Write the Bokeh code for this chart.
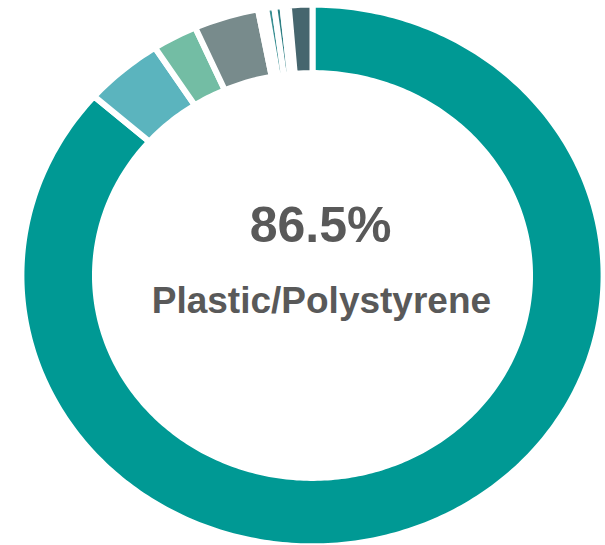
import numpy as np
from bokeh.plotting import figure
from bokeh.models import ColumnDataSource, Range1d
from bokeh.core.properties import value
from bokeh.embed import file_html
from bokeh.resources import INLINE

# ---- data (clockwise from 12 o'clock) ----
categories = ["Plastic/Polystyrene", "Paper/Cardboard", "Glass", "Metal",
              "Other A", "Rubber", "Cloth", "Other B", "Wood"]
shares = [86.5, 4.4, 2.5, 3.6, 0.45, 0.45, 0.45, 0.35, 1.3]
colors = ["#009994", "#5BB4BE", "#73BDA4", "#788B8C",
          "#FFFFFF", "#3A8F93", "#2E7F84", "#FFFFFF", "#46666E"]

center_label = "86.5%"
center_name = "Plastic/Polystyrene"

# ---- geometry (unit circle in data space; scales make it an ellipse) ----
PX_X, PX_Y = 288.0, 268.0          # pixels per data unit
W, H = 605, 545
CX, CY = 312.0, 275.0               # centre in frame pixels
R_OUT = 1.0 + 3.0 / 280.0
R_IN = 0.766 - 3.0 / 280.0

fr = np.array(shares) / sum(shares)
ends = np.cumsum(fr) * 2 * np.pi
starts = ends - fr * 2 * np.pi

xs, ys = [], []
for a0, a1 in zip(starts, ends):
    n = max(4, int((a1 - a0) / (2 * np.pi) * 400))
    t = np.linspace(a0, a1, n)
    ox, oy = R_OUT * np.sin(t), R_OUT * np.cos(t)
    ix, iy = R_IN * np.sin(t[::-1]), R_IN * np.cos(t[::-1])
    xs.append(list(np.concatenate([ox, ix])))
    ys.append(list(np.concatenate([oy, iy])))

src = ColumnDataSource(dict(xs=xs, ys=ys, color=colors, cat=categories, share=shares))

p = figure(width=W, height=H, output_backend="svg", toolbar_location=None,
           x_range=Range1d(-CX / PX_X, (W - CX) / PX_X),
           y_range=Range1d(-(H - CY) / PX_Y, CY / PX_Y),
           min_border=0)
p.axis.visible = False
p.grid.visible = False
p.outline_line_color = None
p.background_fill_color = "white"
p.border_fill_color = "white"

p.patches("xs", "ys", source=src, fill_color="color", line_color="white",
          line_width=6, line_join="miter")

p.text(x=[0.028], y=[0.1866], text=[center_label], text_align="center",
       text_baseline="alphabetic", text_font=value("Liberation Sans"),
       text_font_style="bold", text_font_size="50px", text_color="#595959")
p.text(x=[0.031], y=[-0.0933], text=[center_name], text_align="center",
       text_baseline="alphabetic", text_font=value("Liberation Sans"),
       text_font_style="bold", text_font_size="37px", text_color="#595959")

open("out.html", "w").write(file_html(p, INLINE))
